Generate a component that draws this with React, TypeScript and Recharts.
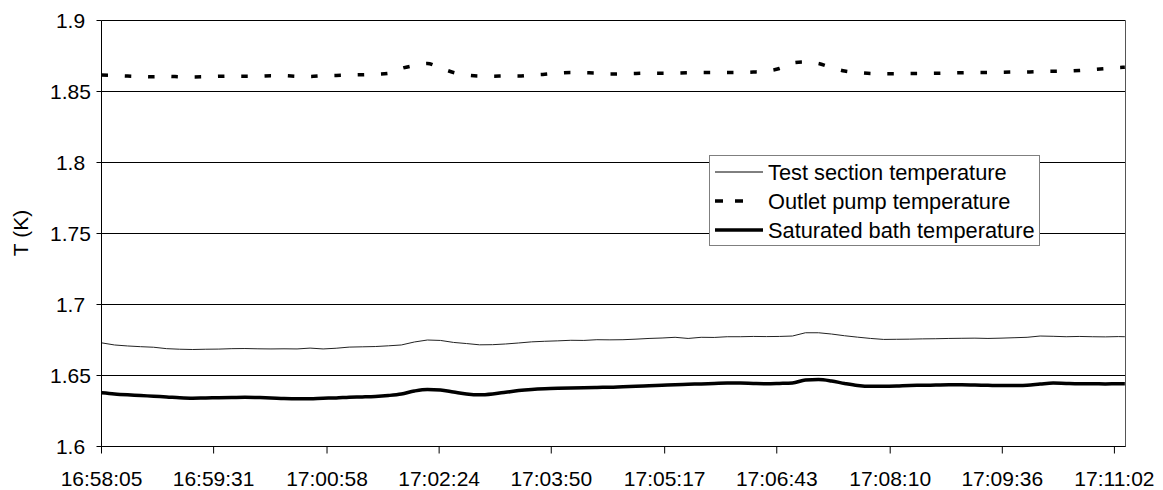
import { LineChart, Line, XAxis, YAxis, CartesianGrid, Legend, ReferenceLine, Label } from 'recharts'

const FONT = '"Liberation Sans", Arial, sans-serif'

// time axis labels (Excel category labels)
const tickLabels = [
  '16:58:05', '16:59:31', '17:00:58', '17:02:24', '17:03:50',
  '17:05:17', '17:06:43', '17:08:10', '17:09:36', '17:11:02',
]

// sample times, seconds after 16:58:05
const sampleSec = [
  0, 10, 20, 30, 40, 50, 60, 70, 80, 90,
  100, 110, 120, 130, 140, 150, 160, 170, 180, 190,
  200, 210, 220, 230, 240, 250, 260, 270, 280, 290,
  300, 310, 320, 330, 340, 350, 360, 370, 380, 390,
  400, 410, 420, 430, 440, 450, 460, 470, 480, 490,
  500, 510, 520, 530, 540, 550, 560, 570, 580, 590,
  600, 610, 620, 630, 640, 650, 660, 670, 680, 690,
  700, 710, 720, 730, 740, 750, 760, 770, 780, 785,
]

const testSection = [
  1.6730, 1.6715, 1.6708, 1.6703, 1.6699, 1.6689, 1.6685, 1.6683, 1.6685, 1.6686,
  1.6689, 1.6690, 1.6688, 1.6687, 1.6688, 1.6687, 1.6693, 1.6687, 1.6692, 1.6700,
  1.6702, 1.6704, 1.6709, 1.6715, 1.6736, 1.6750, 1.6747, 1.6733, 1.6725, 1.6716,
  1.6717, 1.6722, 1.6729, 1.6737, 1.6741, 1.6744, 1.6748, 1.6747, 1.6752, 1.6751,
  1.6752, 1.6756, 1.6761, 1.6764, 1.6769, 1.6761, 1.6769, 1.6768, 1.6773, 1.6773,
  1.6775, 1.6774, 1.6775, 1.6778, 1.6801, 1.6801, 1.6792, 1.6780, 1.6770, 1.6761,
  1.6754, 1.6755, 1.6756, 1.6758, 1.6759, 1.6761, 1.6762, 1.6763, 1.6761, 1.6763,
  1.6766, 1.6769, 1.6778, 1.6776, 1.6773, 1.6775, 1.6773, 1.6772, 1.6774, 1.6773,
]

const outletPump = [
  1.8616, 1.8613, 1.8609, 1.8606, 1.8604, 1.8607, 1.8604, 1.8602, 1.8604, 1.8607,
  1.8608, 1.8608, 1.8608, 1.8611, 1.8611, 1.8607, 1.8606, 1.8611, 1.8613, 1.8616,
  1.8618, 1.8621, 1.8627, 1.8662, 1.8683, 1.8697, 1.8666, 1.8634, 1.8616, 1.8609,
  1.8608, 1.8609, 1.8609, 1.8616, 1.8621, 1.8630, 1.8634, 1.8632, 1.8630, 1.8623,
  1.8625, 1.8627, 1.8629, 1.8629, 1.8630, 1.8632, 1.8634, 1.8634, 1.8634, 1.8634,
  1.8637, 1.8644, 1.8662, 1.8701, 1.8708, 1.8697, 1.8669, 1.8644, 1.8634, 1.8627,
  1.8625, 1.8625, 1.8627, 1.8627, 1.8628, 1.8630, 1.8632, 1.8634, 1.8634, 1.8635,
  1.8637, 1.8638, 1.8641, 1.8642, 1.8644, 1.8648, 1.8655, 1.8662, 1.8669, 1.8671,
]

const satBath = [
  1.6378, 1.6370, 1.6364, 1.6359, 1.6354, 1.6349, 1.6343, 1.6340, 1.6342, 1.6343,
  1.6345, 1.6347, 1.6345, 1.6342, 1.6338, 1.6336, 1.6337, 1.6340, 1.6342, 1.6347,
  1.6349, 1.6352, 1.6359, 1.6370, 1.6391, 1.6402, 1.6398, 1.6384, 1.6370, 1.6364,
  1.6370, 1.6382, 1.6394, 1.6402, 1.6407, 1.6410, 1.6412, 1.6414, 1.6416, 1.6417,
  1.6421, 1.6424, 1.6428, 1.6431, 1.6435, 1.6438, 1.6441, 1.6444, 1.6447, 1.6447,
  1.6444, 1.6442, 1.6444, 1.6447, 1.6468, 1.6471, 1.6461, 1.6444, 1.6430, 1.6424,
  1.6424, 1.6426, 1.6430, 1.6431, 1.6433, 1.6435, 1.6435, 1.6433, 1.6431, 1.6429,
  1.6430, 1.6432, 1.6440, 1.6447, 1.6444, 1.6442, 1.6442, 1.6441, 1.6442, 1.6442,
]

const yTicks = [1.6, 1.65, 1.7, 1.75, 1.8, 1.85, 1.9]
const X_END = 785.5

const series = [
  { key: 'test', name: 'Test section temperature', width: 1, dash: undefined, legendDash: undefined, legendLen: 48 },
  { key: 'outlet', name: 'Outlet pump temperature', width: 3.5, dash: '6.5 16.8', legendDash: '8 12', legendLen: 28 },
  { key: 'bath', name: 'Saturated bath temperature', width: 3.5, dash: undefined, legendDash: undefined, legendLen: 48 },
]

function toSec(s: string) {
  const [h, m, sec] = s.split(':').map(Number)
  return h * 3600 + m * 60 + sec
}

const t0 = toSec(tickLabels[0])
const xTicks = tickLabels.map((l) => toSec(l) - t0)

const data = sampleSec.map((t, i) => ({
  t,
  test: testSection[i],
  outlet: outletPump[i],
  bath: satBath[i],
}))

function XTick(props: any) {
  const { x, y, payload } = props
  const idx = xTicks.indexOf(payload.value)
  return (
    <text x={x} y={y + 30} textAnchor="middle" fontFamily={FONT} fontSize={21} fill="#000">
      {idx >= 0 ? tickLabels[idx] : ''}
    </text>
  )
}

function YTick(props: any) {
  const { x, y, payload } = props
  return (
    <text x={x - 24} y={y + 7.5} textAnchor="middle" fontFamily={FONT} fontSize={21} fill="#000">
      {String(Number(payload.value.toFixed(2)))}
    </text>
  )
}

function YLabel() {
  return (
    <text
      x={28}
      y={233}
      transform="rotate(-90, 28, 233)"
      textAnchor="middle"
      fontFamily={FONT}
      fontSize={21}
      fill="#000"
    >
      T (K)
    </text>
  )
}

function LegendBox() {
  return (
    <svg width={331} height={91} style={{ display: 'block' }}>
      <rect x={0.5} y={0.5} width={330} height={90} fill="#fff" stroke="#7f7f7f" />
      {series.map((s, i) => {
        const y = 17 + i * 29
        return (
          <g key={s.key}>
            <line
              x1={6}
              x2={6 + s.legendLen}
              y1={y}
              y2={y}
              stroke="#000"
              strokeWidth={s.width}
              strokeDasharray={s.legendDash}
            />
            <text x={59} y={y + 7.5} fontFamily={FONT} fontSize={21.8} fill="#000">
              {s.name}
            </text>
          </g>
        )
      })}
    </svg>
  )
}

export default function App() {
  return (
    <div style={{ position: 'absolute', left: 0, top: 0, width: 1163, height: 490, background: '#fff' }}>
      <LineChart width={1163} height={490} data={data} margin={{ top: 20.5, right: 37.5, bottom: 0, left: 0 }}>
        <CartesianGrid vertical={false} stroke="#000" />
        <XAxis
          dataKey="t"
          type="number"
          domain={[0, X_END]}
          ticks={xTicks}
          interval={0}
          height={43.5}
          tickSize={7}
          axisLine={{ stroke: '#000' }}
          tickLine={{ stroke: '#000' }}
          tick={<XTick />}
        />
        <YAxis
          domain={[1.6, 1.9]}
          ticks={yTicks}
          interval={0}
          width={101.5}
          tickSize={5}
          axisLine={{ stroke: '#000' }}
          tickLine={{ stroke: '#000' }}
          tick={<YTick />}
          label={<Label content={<YLabel />} />}
        />
        <ReferenceLine x={X_END} stroke="#555" />
        {series.map((s) => (
          <Line
            key={s.key}
            dataKey={s.key}
            name={s.name}
            type={s.key === 'test' ? 'linear' : 'monotone'}
            stroke={s.key === 'test' ? '#222' : '#000'}
            strokeWidth={s.width}
            strokeDasharray={s.dash}
            dot={false}
            activeDot={false}
            isAnimationActive={false}
          />
        ))}
        <Legend
          layout="vertical"
          align="center"
          verticalAlign="middle"
          content={<LegendBox />}
          wrapperStyle={{ position: 'absolute', left: 709, top: 155, width: 331, height: 91 }}
        />
      </LineChart>
    </div>
  )
}
